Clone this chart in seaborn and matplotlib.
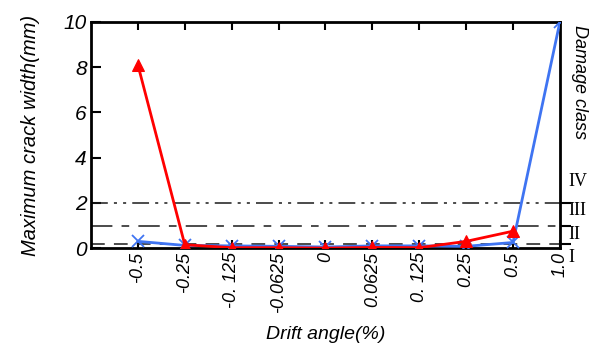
import matplotlib
matplotlib.use("Agg")
import matplotlib.pyplot as plt
import numpy as np
import pandas as pd
import seaborn as sns

# drift angle categories (%), placed at equal spacing on the x axis
drift_labels = ["-0.5", "-0.25", "-0. 125", "-0.0625", "0", "0.0625", "0. 125", "0.25", "0.5", "1.0"]
# maximum crack width (mm)
red_width = [8.1, 0.15, 0.02, 0.02, 0.0, 0.03, 0.02, 0.3, 0.75, np.nan]
blue_width = [0.3, 0.12, 0.1, 0.08, 0.05, 0.1, 0.1, 0.08, 0.25, 10.0]
# damage class limits (mm) and labels
class_limits = [0.2, 1.0, 2.0]
class_names = ["I", "II", "III", "IV"]
class_label_y = [-0.4, 0.62, 1.65, 2.95]

sns.set_style("ticks")
plt.rcParams["font.family"] = ["Liberation Sans", "DejaVu Sans"]
for key in ["text.color", "axes.labelcolor", "xtick.color", "ytick.color", "axes.edgecolor"]:
    plt.rcParams[key] = "black"

pos = np.arange(len(drift_labels))
df = pd.DataFrame({"pos": pos, "red": red_width, "blue": blue_width})

fig = plt.figure(figsize=(5.95, 3.49), dpi=100)
ax = fig.add_axes([0.153, 0.289, 0.788, 0.648])

# damage class boundaries
ax.axhline(class_limits[0], color="#1a1a1a", lw=1.1, ls=(0, (9, 6)), zorder=1)
ax.axhline(class_limits[1], color="#1a1a1a", lw=1.1, ls=(0, (14, 6, 5, 6)), zorder=1)
ax.axhline(class_limits[2], color="#1a1a1a", lw=1.1, ls=(0, (11, 4, 2, 4, 2, 4)), zorder=1)

sns.lineplot(data=df, x="pos", y="blue", ax=ax, color="#3f74f2", lw=2,
             marker="x", markersize=8, markeredgewidth=1.3,
             markeredgecolor="#3f74f2", zorder=3)
sns.lineplot(data=df.dropna(), x="pos", y="red", ax=ax, color="#ff0000", lw=2,
             marker="^", markersize=8, markeredgecolor="#ff0000", zorder=4)

ax.set_xlim(-1, len(drift_labels) - 1)
ax.set_ylim(0, 10)
ax.set_xticks(pos)
ax.set_xticklabels(drift_labels, rotation=90, fontsize=13, style="italic")
ax.set_yticks([0, 2, 4, 6, 8, 10])
ax.set_yticklabels(["0", "2", "4", "6", "8", "10"], fontsize=15, style="italic")

ax.tick_params(axis="x", direction="in", length=6, width=1.5, top=True, pad=3)
ax.tick_params(axis="y", direction="in", length=7, width=1.5, right=True, pad=3)
for s in ax.spines.values():
    s.set_linewidth(2)
    s.set_visible(True)

ax.set_xlabel("Drift angle(%)", fontsize=14, style="italic", labelpad=9)
ax.set_ylabel("Maximum crack width(mm)", fontsize=14.5, style="italic", labelpad=17)

# outward ticks for the damage class limits on the right
ax2 = ax.twinx()
ax2.set_ylim(ax.get_ylim())
ax2.set_yticks(class_limits)
ax2.set_yticklabels([])
ax2.tick_params(axis="y", direction="out", length=8, width=1.5, right=True, left=False)
for s in ax2.spines.values():
    s.set_visible(False)

for name, yv in zip(class_names, class_label_y):
    ax.text(1.018, yv, name, transform=ax.get_yaxis_transform(), fontsize=13,
            family="Liberation Serif", va="center", ha="left", clip_on=False)

ax.text(1.042, 0.985, "Damage class", transform=ax.transAxes, rotation=-90,
        fontsize=13, style="italic", va="top", ha="center")

fig.savefig("out.png", dpi=100)
